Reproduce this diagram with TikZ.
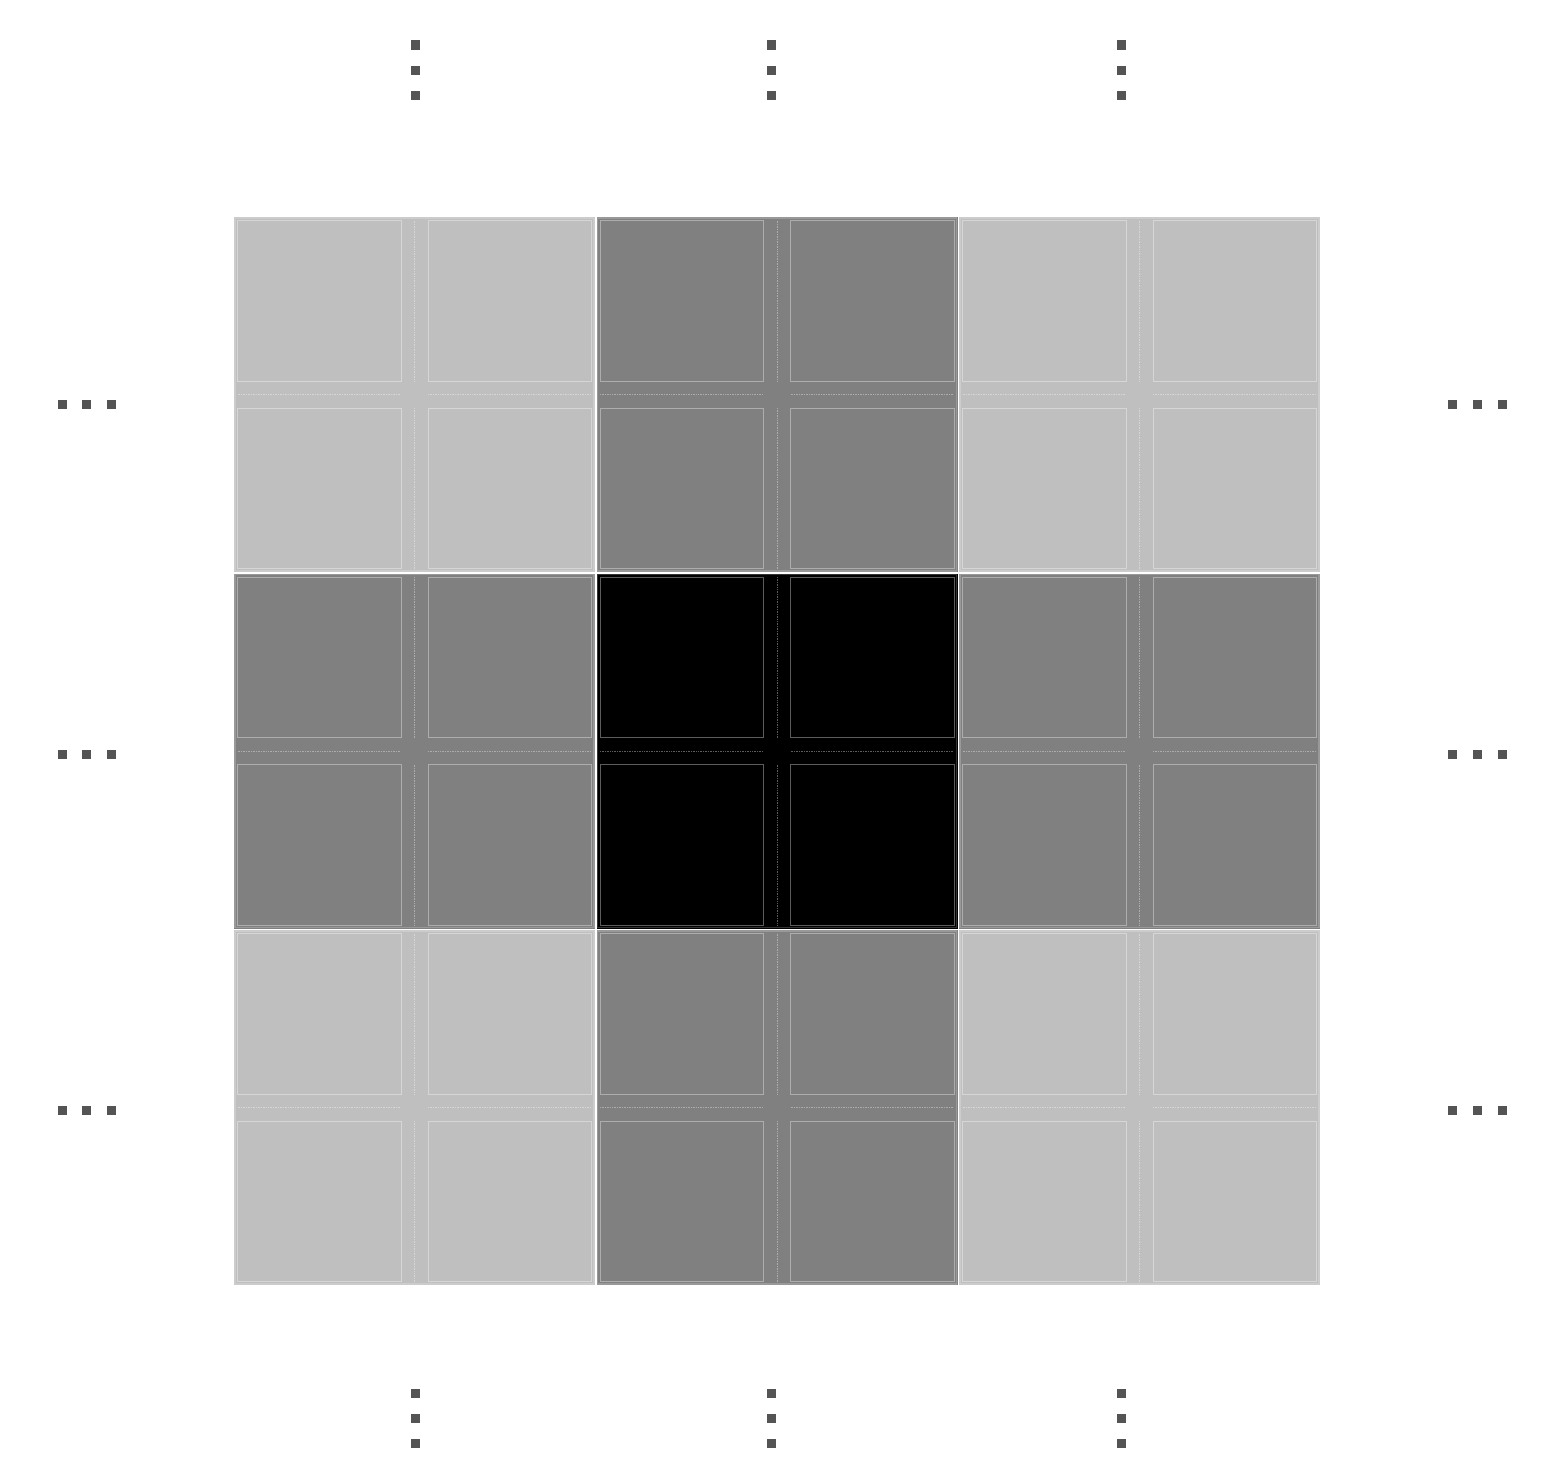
\documentclass[tikz,border=0pt]{standalone}
\usepackage{xcolor}
\usepackage{tikz}

\begin{document}
\begin{tikzpicture}[x=0.05cm, y=-0.05cm,
  celledge/.style={line width=1.6pt},
  subedge/.style={line width=1.2pt},
  centreline/.style={line width=1pt, dash pattern=on 1.2pt off 1.2pt},
  ellipsisdot/.style={fill=black!67}]

\useasboundingbox (0,0) rectangle (1544,1480);

% 3x3 block of cells, each split in four
\foreach \i/\x in {0/234,1/596.5,2/959}{
  \foreach \j/\y in {0/217,1/573.5,2/930}{
    \pgfmathtruncatemacro\nmid{(\i==1)+(\j==1)}
    \pgfmathtruncatemacro\shade{\nmid==0 ? 25 : (\nmid==1 ? 50 : 100)}
    \colorlet{cellfill}{black!\shade}
    \colorlet{cellline}{cellfill!64!white}
    \fill[cellfill] (\x,\y) rectangle ++(361,355);
    \draw[celledge, cellfill!80!white] (\x+1,\y+1) rectangle (\x+360,\y+354);
    \draw[subedge, cellline] (\x+3.5,\y+3.5) rectangle (\x+167,\y+164);
    \draw[subedge, cellline] (\x+194,\y+3.5) rectangle (\x+357.5,\y+164);
    \draw[subedge, cellline] (\x+3.5,\y+191) rectangle (\x+167,\y+351.5);
    \draw[subedge, cellline] (\x+194,\y+191) rectangle (\x+357.5,\y+351.5);
    \draw[centreline, cellline] (\x+180.5,\y+3.5) -- (\x+180.5,\y+164);
    \draw[centreline, cellline] (\x+180.5,\y+191) -- (\x+180.5,\y+351.5);
    \draw[centreline, cellline] (\x+3.5,\y+177.5) -- (\x+167,\y+177.5);
    \draw[centreline, cellline] (\x+194,\y+177.5) -- (\x+357.5,\y+177.5);
  }
}

% vertical dots above and below
\foreach \x in {415,771,1121}{
  \foreach \y in {45,70,95,1393,1418,1443}{
    \fill[ellipsisdot] (\x-4.5,\y-4.5) rectangle ++(9,9);
  }
}

% horizontal dots left and right
\foreach \y in {404,754,1110}{
  \foreach \x in {62,86,111,1452,1477,1502}{
    \fill[ellipsisdot] (\x-4.5,\y-4.5) rectangle ++(9,9);
  }
}

\end{tikzpicture}
\end{document}
